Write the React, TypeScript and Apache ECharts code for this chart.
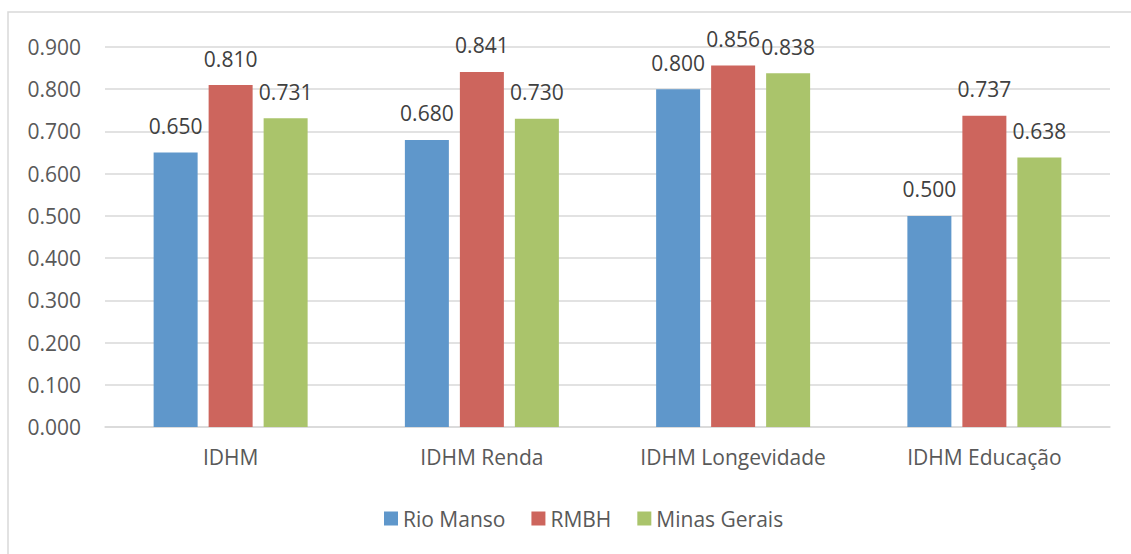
import React, { useEffect, useRef } from "react";
import * as echarts from "echarts";

const categories = ["IDHM", "IDHM Renda", "IDHM Longevidade", "IDHM Educação"];
const seriesNames = ["Rio Manso", "RMBH", "Minas Gerais"];
const rioManso = [0.65, 0.68, 0.8, 0.5];
const rmbh = [0.81, 0.841, 0.856, 0.737];
const minasGerais = [0.731, 0.73, 0.838, 0.638];
const colors = ["#5F97CB", "#CD655D", "#AAC46B"];

const FONT = "Open Sans";

export default function App() {
  const ref = useRef<HTMLDivElement>(null);
  useEffect(() => {
    if (!ref.current) return;
    const chart = echarts.init(ref.current, undefined, { renderer: "svg" });
    const data = [rioManso, rmbh, minasGerais];
    chart.setOption({
      animation: false,
      textStyle: { fontFamily: FONT },
      graphic: [
        {
          type: "rect",
          shape: { x: 8, y: 12, width: 1140, height: 560 },
          style: { fill: "none", stroke: "#d9d9d9", lineWidth: 1.5 },
          silent: true,
        },
      ],
      legend: {
        left: 379,
        top: 503,
        itemWidth: 14,
        itemHeight: 14,
        itemGap: 26,
        icon: "rect",
        textStyle: { fontFamily: FONT, fontSize: 21, color: "#595959" },
        data: seriesNames,
      },
      grid: { left: 105, right: 21, top: 47, bottom: 127 },
      xAxis: {
        type: "category",
        data: categories,
        axisLine: { lineStyle: { color: "#d9d9d9", width: 1.5 } },
        axisTick: { show: false },
        axisLabel: { fontFamily: FONT, fontSize: 21, color: "#595959", margin: 19 },
      },
      yAxis: {
        type: "value",
        min: 0,
        max: 0.9,
        interval: 0.1,
        axisLine: { show: false },
        axisTick: { show: false },
        splitLine: { lineStyle: { color: "#d9d9d9", width: 1.5 } },
        axisLabel: {
          fontFamily: FONT,
          fontSize: 21,
          color: "#595959",
          margin: 24,
          formatter: (v: number) => v.toFixed(3),
        },
      },
      series: seriesNames.map((name, i) => ({
        name,
        type: "bar",
        data: data[i],
        barWidth: 44,
        barGap: "25%",
        itemStyle: { color: colors[i] },
        label: {
          show: true,
          position: "top",
          distance: 16,
          fontFamily: FONT,
          fontSize: 21,
          color: "#404040",
          formatter: (p: any) => p.value.toFixed(3),
        },
      })),
    });
    return () => chart.dispose();
  }, []);
  return (
    <div
      ref={ref}
      style={{ position: "fixed", left: 0, top: 0, width: 1131, height: 554, background: "#fff" }}
    />
  );
}
